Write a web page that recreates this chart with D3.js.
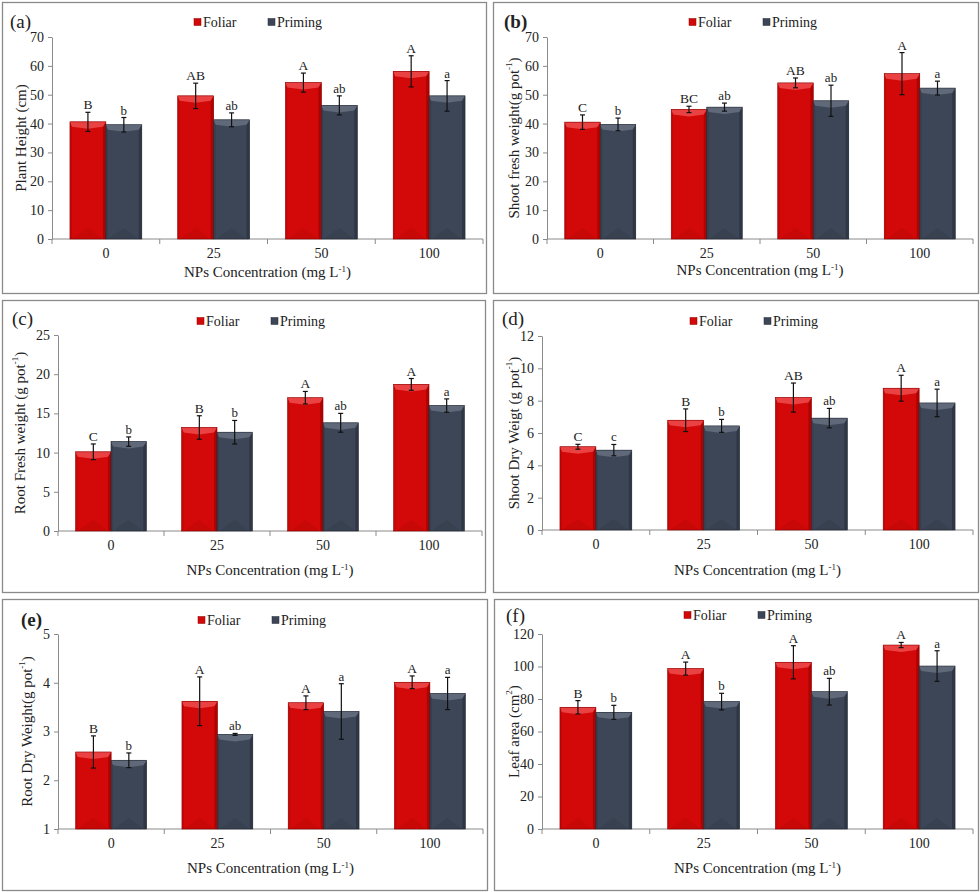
<!DOCTYPE html>
<html>
<head>
<meta charset="utf-8">
<script src="https://cdn.jsdelivr.net/npm/d3@7"></script>
<style>
  body { margin: 0; background: #fff; }
  svg { display: block; }
  svg text { font-family: "Liberation Serif", Tinos, "Times New Roman", Times, serif; fill: #222; }
</style>
</head>
<body>
<svg id="chart" width="980" height="892"></svg>
<script>
(function() {
    const SERIF = "'Liberation Serif', Tinos, 'Times New Roman', Times, serif";

    const categories = ["0", "25", "50", "100"];
    const seriesNames = ["Foliar", "Priming"];

    // (a) plant height
    const heightFoliar = [40.6, 49.6, 54.2, 58.1];
    const heightFoliarErr = [3.3, 4.4, 3.3, 5.4];
    const heightPriming = [39.6, 41.3, 46.3, 49.6];
    const heightPrimingErr = [2.5, 2.4, 3.3, 5.3];
    const heightLettersF = ["B", "AB", "A", "A"];
    const heightLettersP = ["b", "ab", "ab", "a"];

    // (b) shoot fresh weight
    const sfwFoliar = [40.5, 44.9, 54.1, 57.3];
    const sfwFoliarErr = [2.5, 1.1, 1.7, 7.3];
    const sfwPriming = [39.7, 45.7, 47.9, 52.3];
    const sfwPrimingErr = [2.2, 1.4, 5.4, 2.4];
    const sfwLettersF = ["C", "BC", "AB", "A"];
    const sfwLettersP = ["b", "ab", "ab", "a"];

    // (c) root fresh weight
    const rfwFoliar = [10.1, 13.2, 17.0, 18.7];
    const rfwFoliarErr = [1.0, 1.5, 0.8, 0.75];
    const rfwPriming = [11.4, 12.6, 13.8, 16.0];
    const rfwPrimingErr = [0.6, 1.5, 1.2, 0.85];
    const rfwLettersF = ["C", "B", "A", "A"];
    const rfwLettersP = ["b", "b", "ab", "a"];

    // (d) shoot dry weight
    const sdwFoliar = [5.15, 6.79, 8.19, 8.77];
    const sdwFoliarErr = [0.15, 0.7, 0.9, 0.8];
    const sdwPriming = [4.94, 6.44, 6.92, 7.86];
    const sdwPrimingErr = [0.35, 0.4, 0.6, 0.85];
    const sdwLettersF = ["C", "B", "AB", "A"];
    const sdwLettersP = ["c", "b", "ab", "a"];

    // (e) root dry weight
    const rdwFoliar = [2.58, 3.62, 3.59, 4.01];
    const rdwFoliarErr = [0.33, 0.5, 0.14, 0.13];
    const rdwPriming = [2.41, 2.94, 3.41, 3.78];
    const rdwPrimingErr = [0.15, 0.02, 0.57, 0.33];
    const rdwLettersF = ["B", "A", "A", "A"];
    const rdwLettersP = ["b", "ab", "a", "a"];

    // (f) leaf area
    const leafFoliar = [74.9, 98.7, 102.6, 113.2];
    const leafFoliarErr = [4.1, 4.0, 10.2, 1.6];
    const leafPriming = [71.8, 78.4, 84.5, 100.3];
    const leafPrimingErr = [4.3, 5.1, 8.2, 9.4];
    const leafLettersF = ["B", "A", "A", "A"];
    const leafLettersP = ["b", "b", "ab", "a"];

    const colors = {
        Foliar:  { base: "#d30909", light: "#ea4242", dark: "#a30000", edge: "#8e0000" },
        Priming: { base: "#3c4657", light: "#5f6979", dark: "#2a313d", edge: "#252b36" }
    };

    const panels = [
        { tag: "(a)", bold: false, box: [2, 2, 486, 293], plot: [52, 483, 37, 239],
          domain: [0, 70], step: 10, yLabel: ["Plant Height (cm)"], yLabelX: 21,
          tagPos: [10, 28], legendY: 22, legendX: 194, titleDy: 38,
          f: heightFoliar, fe: heightFoliarErr, p: heightPriming, pe: heightPrimingErr,
          lf: heightLettersF, lp: heightLettersP },
        { tag: "(b)", bold: true, box: [493, 2, 978, 293], plot: [547, 973, 37, 239],
          domain: [0, 70], step: 10, yLabel: ["Shoot fresh weight(g pot", "-1", ")"], yLabelX: 514,
          tagPos: [504, 28], legendY: 22, legendX: 689, titleDy: 36,
          f: sfwFoliar, fe: sfwFoliarErr, p: sfwPriming, pe: sfwPrimingErr,
          lf: sfwLettersF, lp: sfwLettersP },
        { tag: "(c)", bold: false, box: [2, 300, 485, 592], plot: [58, 482, 335, 531],
          domain: [0, 25], step: 5, yLabel: ["Root Fresh weight (g pot", "-1", ")"], yLabelX: 20,
          tagPos: [12, 325], legendY: 321, legendX: 197, titleDy: 44,
          f: rfwFoliar, fe: rfwFoliarErr, p: rfwPriming, pe: rfwPrimingErr,
          lf: rfwLettersF, lp: rfwLettersP },
        { tag: "(d)", bold: false, box: [493, 300, 978, 592], plot: [542, 973, 336, 530],
          domain: [0, 12], step: 2, yLabel: ["Shoot Dry Weigt (g pot", "-1", ")"], yLabelX: 514,
          tagPos: [502, 325], legendY: 321, legendX: 690, titleDy: 45,
          f: sdwFoliar, fe: sdwFoliarErr, p: sdwPriming, pe: sdwPrimingErr,
          lf: sdwLettersF, lp: sdwLettersP },
        { tag: "(e)", bold: true, box: [2, 599, 487, 890], plot: [58, 483, 634, 829],
          domain: [1, 5], step: 1, yLabel: ["Root Dry Weight(g pot", "-1", ")"], yLabelX: 27,
          tagPos: [21, 626], legendY: 620, legendX: 198, titleDy: 44,
          f: rdwFoliar, fe: rdwFoliarErr, p: rdwPriming, pe: rdwPrimingErr,
          lf: rdwLettersF, lp: rdwLettersP },
        { tag: "(f)", bold: false, box: [494, 599, 978, 890], plot: [542, 973, 634, 829],
          domain: [0, 120], step: 20, yLabel: ["Leaf area (cm", "2", ")"], yLabelX: 514,
          tagPos: [506, 622], legendY: 615, legendX: 684, titleDy: 44,
          f: leafFoliar, fe: leafFoliarErr, p: leafPriming, pe: leafPrimingErr,
          lf: leafLettersF, lp: leafLettersP }
    ];

    const svg = d3.select("#chart").attr("font-family", SERIF);

    // text with a superscript part: [before, sup, after]
    function richText(sel, parts, supSize) {
        sel.append("tspan").text(parts[0]);
        if (parts.length > 1) {
            sel.append("tspan").attr("dy", -5).attr("font-size", supSize).text(parts[1]);
            sel.append("tspan").attr("dy", 5).text(parts[2]);
        }
    }

    panels.forEach(cfg => {
        const [bx0, by0, bx1, by1] = cfg.box;
        const [left, right, top, bottom] = cfg.plot;
        const g = svg.append("g");

        g.append("rect")
            .attr("x", bx0 + 0.5).attr("y", by0 + 0.5)
            .attr("width", bx1 - bx0).attr("height", by1 - by0)
            .attr("fill", "#fff").attr("stroke", "#8a8a8a").attr("stroke-width", 1.3);

        const x = d3.scaleBand().domain(categories).range([left, right]).padding(0);
        const xs = d3.scaleBand().domain(seriesNames).range([0, x.bandwidth()])
            .paddingInner(0).paddingOuter(0.5);
        const y = d3.scaleLinear().domain(cfg.domain).range([bottom, top]);
        const ticks = d3.range(cfg.domain[0], cfg.domain[1] + cfg.step / 2, cfg.step);

        // y axis
        const yAxis = g.append("g")
            .attr("transform", `translate(${left},0)`)
            .call(d3.axisLeft(y).tickValues(ticks).tickSize(4).tickSizeOuter(0).tickFormat(d3.format("d")))
            .attr("font-family", SERIF);
        yAxis.select(".domain").attr("stroke", "#8a8a8a");
        yAxis.selectAll(".tick line").attr("stroke", "#8a8a8a");
        yAxis.selectAll(".tick text")
            .attr("font-size", 14)
            .attr("fill", "#333").attr("x", -8);

        // x axis: ticks at band boundaries
        const xAxis = g.append("g").attr("transform", `translate(0,${bottom})`);
        xAxis.append("line").attr("x1", left).attr("x2", right)
            .attr("stroke", "#8a8a8a");
        const bounds = categories.map(c => x(c)).concat([x(categories[categories.length - 1]) + x.bandwidth()]);
        xAxis.selectAll(".bt").data(bounds).join("line")
            .attr("x1", d => d).attr("x2", d => d).attr("y1", 0).attr("y2", 5)
            .attr("stroke", "#8a8a8a");
        xAxis.selectAll(".cat").data(categories).join("text")
            .attr("x", d => x(d) + x.bandwidth() / 2)
            .attr("y", 19)
            .attr("text-anchor", "middle")
            .attr("font-size", 14).attr("fill", "#333")
            .text(d => d);

        // x title
        const xt = g.append("text")
            .attr("x", (left + right) / 2).attr("y", bottom + cfg.titleDy)
            .attr("text-anchor", "middle").attr("font-size", 15);
        richText(xt, ["NPs Concentration (mg L", "-1", ")"], 9);

        // y title
        const yt = g.append("text")
            .attr("transform", `translate(${cfg.yLabelX},${(top + bottom) / 2}) rotate(-90)`)
            .attr("text-anchor", "middle").attr("dominant-baseline", "central")
            .attr("font-size", 15);
        richText(yt, cfg.yLabel, 9);

        // panel tag
        g.append("text")
            .attr("x", cfg.tagPos[0]).attr("y", cfg.tagPos[1])
            .attr("font-size", 19).attr("font-weight", cfg.bold ? "bold" : "normal")
            .attr("fill", "#111")
            .text(cfg.tag);

        // legend
        const leg = g.append("g").attr("transform", `translate(${cfg.legendX},${cfg.legendY})`);
        seriesNames.forEach((s, i) => {
            const lx = i * 74;
            leg.append("rect").attr("x", lx).attr("y", -3.5).attr("width", 7).attr("height", 7)
                .attr("fill", colors[s].base).attr("stroke", colors[s].edge).attr("stroke-width", 0.5);
            leg.append("text").attr("x", lx + 9).attr("y", 4.5)
                .attr("font-size", 14).attr("fill", "#222").text(s);
        });

        // bars
        const rows = [];
        categories.forEach((c, i) => {
            rows.push({ cat: c, s: "Foliar", v: cfg.f[i], e: cfg.fe[i], l: cfg.lf[i] });
            rows.push({ cat: c, s: "Priming", v: cfg.p[i], e: cfg.pe[i], l: cfg.lp[i] });
        });

        g.append("g").selectAll("g.bar").data(rows).join("g").attr("class", "bar")
            .each(function(d) {
                const bg = d3.select(this);
                const x0 = x(d.cat) + xs(d.s);
                const w = xs.bandwidth();
                const x1 = x0 + w;
                const y0 = y(d.v);
                const y1 = y(cfg.domain[0]);
                const c = colors[d.s];
                const bv = 5;
                bg.append("rect").attr("x", x0).attr("y", y0).attr("width", w).attr("height", y1 - y0)
                    .attr("fill", c.base);
                // bottom bevel
                bg.append("path")
                    .attr("d", `M${x0 + 2},${y1} L${x0 + w / 2},${y1 - 11} L${x1 - 3},${y1} Z`)
                    .attr("fill", c.dark).attr("opacity", 0.22);
                // right side shade
                bg.append("path")
                    .attr("d", `M${x1},${y0} L${x1 - 3},${y0 + bv} L${x1 - 3},${y1} L${x1},${y1} Z`)
                    .attr("fill", c.dark).attr("opacity", 0.7);
                // left side shade
                bg.append("path")
                    .attr("d", `M${x0},${y0} L${x0 + 2},${y0 + bv} L${x0 + 2},${y1} L${x0},${y1} Z`)
                    .attr("fill", c.dark).attr("opacity", 0.3);
                // top bevel highlight
                bg.append("path")
                    .attr("d", `M${x0},${y0} L${x1},${y0} L${x1 - 3},${y0 + bv} L${x0 + w / 2},${y0 + bv + 2} L${x0 + 2},${y0 + bv} Z`)
                    .attr("fill", c.light);
                bg.append("rect").attr("x", x0).attr("y", y0).attr("width", w).attr("height", y1 - y0)
                    .attr("fill", "none").attr("stroke", c.edge).attr("stroke-width", 0.6);

                // error bar
                const cx = x0 + w / 2;
                const eTop = y(d.v + d.e);
                const eBot = y(d.v - d.e);
                bg.append("line").attr("x1", cx).attr("x2", cx).attr("y1", eTop).attr("y2", eBot)
                    .attr("stroke", "#111").attr("stroke-width", 1.2);
                [eTop, eBot].forEach(ey => {
                    bg.append("line").attr("x1", cx - 2.5).attr("x2", cx + 2.5).attr("y1", ey).attr("y2", ey)
                        .attr("stroke", "#111").attr("stroke-width", 1.2);
                });

                // significance letter
                bg.append("text")
                    .attr("x", cx).attr("y", eTop - 3)
                    .attr("text-anchor", "middle")
                    .attr("font-size", d.s === "Foliar" ? 13.5 : 13)
                    .attr("fill", "#222")
                    .text(d.l);
            });
    });
})();
</script>
</body>
</html>
